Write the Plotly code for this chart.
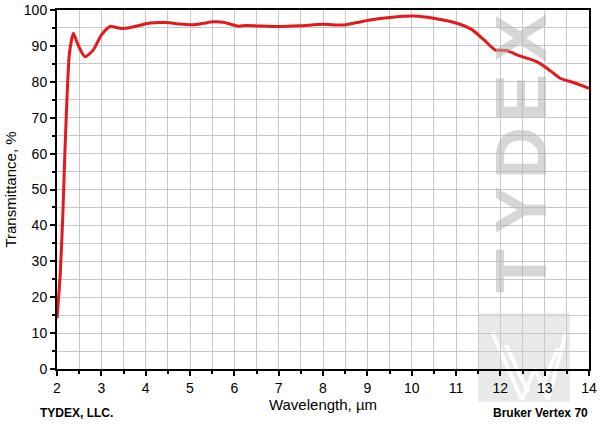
import plotly.graph_objects as go

wavelength = [2.0, 2.07, 2.13, 2.18, 2.23, 2.28, 2.37, 2.46, 2.63, 2.82, 3.0, 3.2, 3.42,
              3.6, 4.1, 4.47, 4.77, 5.07, 5.3, 5.53, 5.75, 5.9, 6.09, 6.28, 6.95, 7.48,
              8.0, 8.46, 8.76, 9.06, 9.51, 10.04, 10.49, 11.02, 11.35, 11.62, 11.88,
              12.14, 12.44, 12.82, 13.05, 13.35, 13.65, 14.0]
transmittance = [14.1, 25.7, 42.4, 61.0, 76.8, 87.9, 93.5, 90.7, 87.0, 88.9, 93.0, 95.4, 94.9,
                 95.0, 96.4, 96.5, 96.1, 95.9, 96.3, 96.7, 96.6, 96.1, 95.5, 95.7, 95.4, 95.6,
                 96.0, 95.8, 96.5, 97.2, 97.9, 98.3, 97.7, 96.3, 94.6, 91.8, 88.9,
                 88.7, 87.2, 85.6, 83.8, 81.0, 79.8, 78.2]

x_ticks = list(range(2, 15))
y_ticks = list(range(0, 101, 10))

watermark_letters = ["T", "Y", "D", "E", "X"]

fig = go.Figure()

font_family = "Liberation Sans, Arial, sans-serif"

def px(xp):
    return (xp - 57) / 532

def py(yp):
    return 1 - (yp - 10) / 359

# Watermark logo square and W strokes (below the curve)
fig.add_shape(type="rect", xref="paper", yref="paper",
              x0=px(478), x1=px(570), y0=py(402), y1=py(313),
              fillcolor="rgba(215,215,215,0.55)", line=dict(width=0), layer="below")
for (xa, ya, xb, yb) in [(492, 332, 522, 400), (522, 400, 535, 368), (535, 368, 548, 400),
                         (548, 400, 566, 332), (506, 345, 528, 392), (540, 392, 558, 348)]:
    fig.add_shape(type="line", xref="paper", yref="paper",
                  x0=px(xa), x1=px(xb), y0=py(ya), y1=py(yb),
                  line=dict(color="rgba(255,255,255,0.9)", width=4), layer="below")

fig.add_trace(go.Scatter(
    x=wavelength, y=transmittance, mode="lines",
    line=dict(color="#e3191c", width=3, shape="spline", smoothing=0.6),
    hoverinfo="skip", showlegend=False,
))

fig.update_layout(
    width=600, height=426,
    margin=dict(l=57, r=11, t=10, b=57, autoexpand=False),
    paper_bgcolor="white", plot_bgcolor="white",
    font=dict(family=font_family, color="black", size=14),
    xaxis=dict(
        range=[2, 14], tickvals=x_ticks, ticktext=[str(v) for v in x_ticks],
        showgrid=True, gridcolor="#c8c8c8", gridwidth=1, automargin=False,
        showline=True, linecolor="black", linewidth=2, mirror=True,
        ticks="outside", ticklen=5, tickwidth=2, tickcolor="black",
        minor=dict(dtick=0.5, showgrid=True, gridcolor="#c8c8c8", gridwidth=1,
                   ticks="outside", ticklen=3, tickwidth=2, tickcolor="black"),
        zeroline=False, tickfont=dict(size=14),
        title=dict(text="Wavelength, µm", font=dict(size=15), standoff=2),
    ),
    yaxis=dict(
        range=[0, 100], tickvals=y_ticks, ticktext=[str(v) for v in y_ticks],
        showgrid=True, gridcolor="#c8c8c8", gridwidth=1, automargin=False,
        showline=True, linecolor="black", linewidth=2, mirror=True,
        ticks="outside", ticklen=5, tickwidth=2, tickcolor="black",
        minor=dict(dtick=5, showgrid=True, gridcolor="#c8c8c8", gridwidth=1,
                   ticks="outside", ticklen=3, tickwidth=2, tickcolor="black"),
        zeroline=False, tickfont=dict(size=14),
        title=dict(text="Transmittance, %", font=dict(size=15), standoff=4),
    ),
)

letter_centers = [271, 210, 153, 98, 38]
for letter, yc in zip(watermark_letters, letter_centers):
    fig.add_annotation(
        text="<b>" + letter + "</b>", xref="paper", yref="paper",
        x=px(521), y=py(yc), xanchor="center", yanchor="middle", showarrow=False,
        textangle=-90, font=dict(size=72, color="rgba(180,180,180,0.55)", family=font_family),
    )

fig.add_annotation(text="<b>TYDEX, LLC.</b>", xref="paper", yref="paper",
                   x=px(38), y=py(413), xanchor="left", yanchor="middle",
                   showarrow=False, font=dict(size=12))
fig.add_annotation(text="<b>Bruker Vertex 70</b>", xref="paper", yref="paper",
                   x=px(590), y=py(413), xanchor="right", yanchor="middle",
                   showarrow=False, font=dict(size=12))

fig.write_html("out.html", config={"displayModeBar": False},
               post_script="document.body.style.margin='0';document.body.style.padding='0';")
